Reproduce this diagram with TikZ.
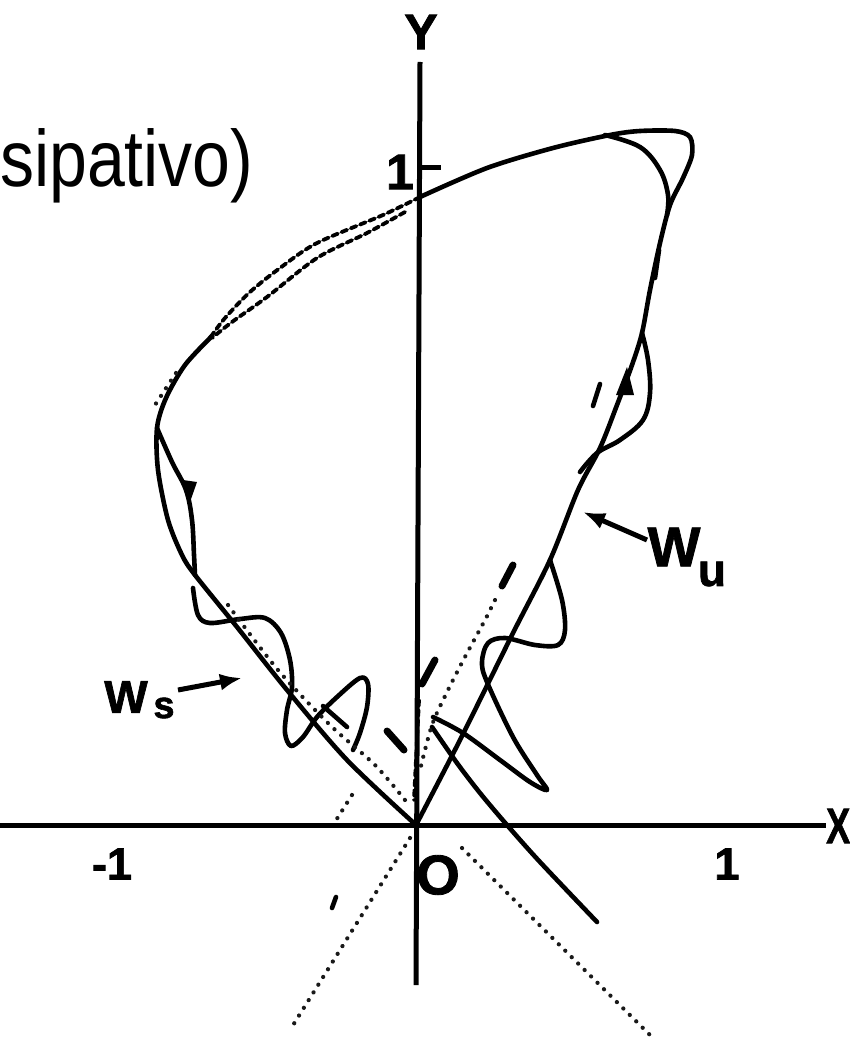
\documentclass[tikz,border=0pt]{standalone}
\usepackage{fontspec}
\setmainfont{Liberation Sans}
\newfontfamily\lblfont[FakeBold=1.5]{Liberation Sans Bold}
\usetikzlibrary{arrows.meta}
\begin{document}
\begin{tikzpicture}[x=1pt,y=-1pt,
  curve/.style={line width=4.6pt, line cap=round, line join=round},
  axisline/.style={line width=5pt},
  dsh/.style={line width=3.8pt, dash pattern=on 6pt off 4pt, line cap=round},
  dotline/.style={line width=4.2pt, dash pattern=on 0.1pt off 9pt, line cap=round, black!90},
  lbl/.style={inner sep=0pt, font=\lblfont\fontsize{50}{50}\selectfont},
  pointer/.style={line width=5pt, -{Latex[length=22pt,width=17pt]}}
]
\useasboundingbox (0,0) rectangle (849,1048);

% title fragment
\node[inner sep=0pt, anchor=base west] (title) at (0,187)
  {\fontsize{80}{80}\selectfont\scalebox{0.85}[1]{sipativo)}};

% axes
\coordinate (O) at (416,825);
\coordinate (xl) at (0,825);
\coordinate (xr) at (826,825);
\coordinate (yt) at (420,62);
\coordinate (yb) at (416,985);
\coordinate (yt1) at (420,168);
\coordinate (yt2) at (441,168);
\draw[axisline] (xl) -- (xr);
\draw[axisline] (yt) -- (yb);
\draw[axisline] (yt1) -- (yt2);

% axis labels
\node[lbl] (Ylab) at (421,32) {Y};
\node[lbl] (one) at (400,172) {1};
\node[lbl, anchor=west] (Xlab) at (826,826) {\scalebox{0.72}[1]{X}};
\node[lbl, font=\lblfont\fontsize{45}{45}\selectfont] (mone) at (112,864) {-1};
\node[lbl, font=\lblfont\fontsize{45}{45}\selectfont] (pone) at (727,864) {1};
\node[lbl, font=\lblfont\fontsize{56}{56}\selectfont] (Olab) at (438,875) {O};

% main loop: unstable branch from O, over the top
\draw[curve] plot[smooth, tension=0.5] coordinates {
 (416,825) (460,740) (513,633) (550,560) (578,490) (600,448) (617,405)
 (632,365) (642,333) (650,290) (660,243) (670,205) (683,178) (692,155)
 (690,137) (675,131) (640,131) (610,135) (553,148) (487,168) (420,197)};
% inner arc at the top right corner
\draw[curve] plot[smooth, tension=0.6] coordinates {
 (605,135) (640,147) (660,170) (668,195) (667,215)};
% dashed double line, upper left
\draw[dsh] plot[smooth] coordinates {
 (420,197) (383,215) (317,243) (280,268) (250,292) (225,318) (210,338)};
\draw[dsh] plot[smooth] coordinates {
 (405,212) (367,233) (317,258) (267,297) (232,322) (212,338)};
% left side and stable branch into O
\draw[curve] plot[smooth, tension=0.5] coordinates {
 (212,336) (185,365) (166,398) (157,428) (158,470) (168,520) (182,555)
 (195,575) (237,627) (287,690) (347,760) (416,825)};
% inner left arc
\draw[curve] plot[smooth, tension=0.6] coordinates {
 (157,428) (172,462) (186,490) (192,520) (194,555) (195,575)};
\fill (183,480) -- (197,482) -- (190,502) -- cycle;
\draw[dotline] (176,373) -- (155,405);

% right wiggle
\draw[curve] plot[smooth, tension=0.6] coordinates {
 (642,333) (648,360) (650,393) (643,420) (620,440) (597,453) (580,472)};
\fill (616,395) -- (634,395) -- (627,367) -- cycle;
\draw[curve] (600,384) -- (593,406);
\draw[curve] (659,250) -- (655,278);

% lobes of W_u
\draw[curve] plot[smooth, tension=0.55] coordinates {
 (550,560) (562,600) (565,630) (558,645) (535,645) (505,638) (488,643)
 (482,662) (487,682) (513,737) (537,775) (547,790) (530,782) (500,760)
 (463,733) (433,717)};
% diagonal branch crossing the X axis
\draw[curve] plot[smooth] coordinates {
 (432,727) (457,763) (480,793) (507,825) (540,862) (597,922)};

% lobes of W_s
\draw[curve] plot[smooth, tension=0.55] coordinates {
 (193,588) (198,615) (210,623) (240,619) (265,618) (281,633) (290,660)
 (292,687) (287,710) (285,733) (291,746) (303,737) (317,717) (337,697)
 (360,678) (368,684) (367,707) (360,733) (353,750)};
\draw[curve] (323,706) -- (347,727);
\draw[curve, line width=7pt] (387,731) -- (404,750);

% dotted traces
\draw[dotline] plot[smooth] coordinates {(228,605) (278,670) (330,725) (375,765) (405,800)};
\draw[curve, line width=7pt] (513,565) -- (502,586);
\draw[dotline] plot[smooth] coordinates {(495,600) (485,620) (466,655) (448,690) (432,725) (420,770)};
\draw[curve, line width=7pt] (435,660) -- (422,684);
\draw[dsh] (419,700) -- (414,800);
\draw[dotline] (410,838) -- (290,1030);
\draw[dotline] (462,848) -- (655,1040);
\draw[dotline] (352,795) -- (333,825);
\draw[curve] (336,897) -- (332,908);

% labels W_u and W_s with pointers
\node[lbl, font=\lblfont\fontsize{56}{56}\selectfont] (Wu) at (674,547) {W};
\node[lbl, font=\lblfont\fontsize{46}{46}\selectfont] (usub) at (712,574) {u};
\coordinate (Wutip) at (583,512);
\coordinate (Wutail) at (647,540);
\draw[pointer] (Wutail) -- (Wutip);

\node[lbl, font=\lblfont\fontsize{46}{46}\selectfont] (Ws) at (126,697) {W};
\node[lbl, font=\lblfont\fontsize{38}{38}\selectfont] (ssub) at (164,708) {s};
\coordinate (Wstail) at (178,690);
\coordinate (Wstip) at (242,678);
\draw[pointer] (Wstail) -- (Wstip);
\end{tikzpicture}
\end{document}
